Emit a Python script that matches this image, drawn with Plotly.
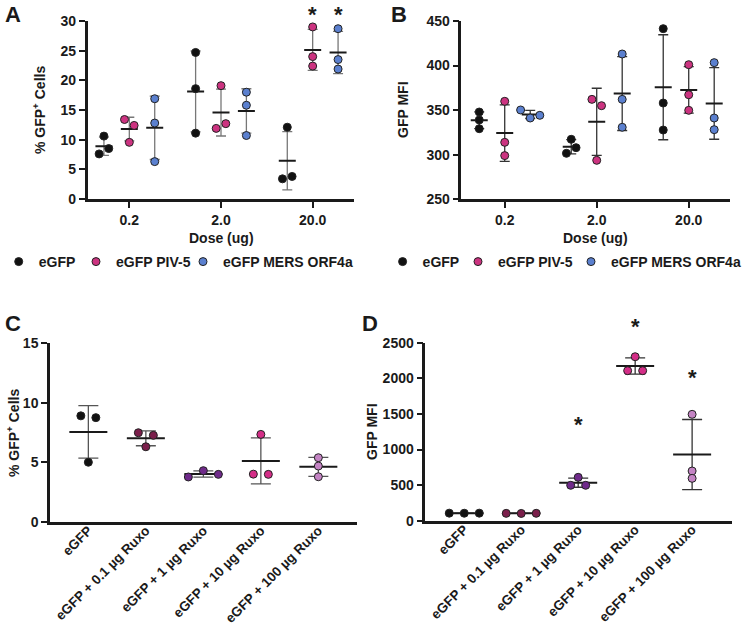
import numpy as np
import plotly.graph_objects as go

# ---------------- data ----------------
DOSES = ["0.2", "2.0", "20.0"]
SERIES = ["eGFP", "eGFP PIV-5", "eGFP MERS ORF4a"]

# Panel A: % GFP+ cells, per dose, 3 replicates
A_EGFP = [[10.6, 7.6, 8.5], [24.7, 18.6, 11.1], [12.1, 3.4, 3.8]]
A_PIV5 = [[13.4, 12.4, 9.55], [19.1, 11.9, 12.7], [29.0, 24.0, 22.4]]
A_MERS = [[16.9, 12.8, 6.3], [18.0, 15.8, 10.7], [28.7, 23.5, 21.9]]

# Panel B: GFP MFI
B_EGFP = [[347.9, 339.0, 329.2], [317.3, 301.6, 307.9], [441.4, 358.0, 327.7]]
B_PIV5 = [[359.9, 313.9, 299.0], [362.1, 355.0, 293.7], [401.0, 367.3, 349.8]]
B_MERS = [[350.2, 341.2, 344.2], [413.0, 362.1, 330.8], [403.3, 341.2, 328.1]]

RUXO = ["eGFP", "eGFP + 0.1 µg Ruxo", "eGFP + 1 µg Ruxo",
        "eGFP + 10 µg Ruxo", "eGFP + 100 µg Ruxo"]
# Panel C: % GFP+ cells
C_VALUES = [[8.9, 8.75, 5.0], [7.48, 7.26, 6.3], [3.76, 4.29, 3.98],
            [7.34, 4.0, 3.98], [5.38, 4.68, 3.78]]
# Panel D: GFP MFI
D_VALUES = [[106, 105, 106], [103, 102, 104], [609, 497, 497],
            [2303, 2107, 2107], [1494, 698, 595]]

# significance markers and label heights
A_STARS = [(1, 2), (2, 2)]          # (series index, dose index)
A_STAR_Y = 32.0
D_STARS = [2, 3, 4]
D_STAR_Y = [1428, 2795, 2084]

# ---------------- style ----------------
W, H = 744, 630
FONT = "Liberation Sans, Arial, Helvetica, sans-serif"
INK = "#1a1a1a"
SERIES_COLORS = ["#111111", "#cc3380", "#5b80cf"]
RUXO_COLORS = ["#111111", "#7b1f4b", "#6f2a8a", "#d42d87", "#c484c4"]
SERIES_OFFSET = [-0.277, 0.0, 0.277]
TICK_FS = 14
TITLE_FS = 14
LEGEND_FS = 14
# legend entry symbol positions (px) under panels A and B
LEGEND_SYMBOL_X = {"A": [16.7, 94.0, 201.0], "B": [400.6, 476.0, 589.0]}
LEGEND_Y = 262
SYMBOL_PAD = 18  # distance from legend box left edge to its symbol

# panel geometry in pixels: x (left, right), y (bottom, top)
PANELS = {
    "A": dict(xd=(87.7, 354.3), yd=(199.0, 21.0), xr=(-0.454, 2.454), yr=(0, 30), dt=5),
    "B": dict(xd=(461.3, 730.3), yd=(199.3, 21.0), xr=(-0.472, 2.452), yr=(250, 450), dt=50),
    "C": dict(xd=(50.0, 356.7), yd=(521.7, 343.3), xr=(-0.667, 4.667), yr=(0, 15), dt=5),
    "D": dict(xd=(425.3, 732.0), yd=(520.7, 342.7), xr=(-0.684, 4.70), yr=(0, 2500), dt=500),
}
AX = {"A": ("x", "y"), "B": ("x2", "y2"), "C": ("x3", "y3"), "D": ("x4", "y4")}


def scales(p):
    g = PANELS[p]
    ppc = (g["xd"][1] - g["xd"][0]) / (g["xr"][1] - g["xr"][0])
    ppu = (g["yd"][0] - g["yd"][1]) / (g["yr"][1] - g["yr"][0])
    return ppc, ppu


def swarm(values, ppu, ppc, thresh=7.0, step=9.6):
    """Spread points horizontally when they would overlap vertically."""
    vals = np.asarray(values, float)
    order = np.argsort(vals, kind="stable")
    clusters, cur = [], [order[0]]
    for a, b in zip(order[:-1], order[1:]):
        if (vals[b] - vals[a]) * ppu < thresh:
            cur.append(b)
        else:
            clusters.append(cur)
            cur = [b]
    clusters.append(cur)
    off = np.zeros(len(vals))
    for c in clusters:
        c = sorted(c)
        n = len(c)
        for i, k in enumerate(c):
            off[k] = (i - (n - 1) / 2) * step / ppc
    return off


fig = go.Figure()
legend_names = {}


def add_group_panel(p, data):
    xa, ya = AX[p]
    ppc, ppu = scales(p)
    errc = "#777777" if p == "A" else "#333333"
    for s, groups in enumerate(data):
        xm = [d + SERIES_OFFSET[s] for d in range(len(groups))]
        means = [float(np.mean(g)) for g in groups]
        sds = [float(np.std(g, ddof=1)) for g in groups]
        fig.add_trace(go.Scatter(
            x=xm, y=means, mode="markers", xaxis=xa, yaxis=ya,
            marker=dict(size=2, opacity=0), showlegend=False, hoverinfo="skip",
            error_y=dict(type="data", array=sds, visible=True, color=errc,
                         thickness=1.3, width=5),
            error_x=dict(type="constant", value=8.5 / ppc, visible=True,
                         color=INK, thickness=2, width=0),
            cliponaxis=False))
    for s, groups in enumerate(data):
        xs, ys = [], []
        for d, g in enumerate(groups):
            off = swarm(g, ppu, ppc, thresh=7.0, step=9.6)
            xs += list(d + SERIES_OFFSET[s] + off)
            ys += list(g)
        k = len(legend_names) + 1
        lname = "legend" if k == 1 else f"legend{k}"
        legend_names[lname] = LEGEND_SYMBOL_X[p][s]
        fig.add_trace(go.Scatter(
            x=xs, y=ys, mode="markers", xaxis=xa, yaxis=ya, name=SERIES[s],
            legend=lname, showlegend=True,
            marker=dict(size=8, color=SERIES_COLORS[s],
                        line=dict(width=1, color="#222222")),
            cliponaxis=False))


def add_cat_panel(p, data, errc):
    xa, ya = AX[p]
    ppc, ppu = scales(p)
    means = [float(np.mean(g)) for g in data]
    sds = [float(np.std(g, ddof=1)) for g in data]
    fig.add_trace(go.Scatter(
        x=list(range(len(data))), y=means, mode="markers", xaxis=xa, yaxis=ya,
        marker=dict(size=2, opacity=0), showlegend=False, hoverinfo="skip",
        error_y=dict(type="data", array=sds, visible=True, color=errc,
                     thickness=1.3, width=10),
        error_x=dict(type="constant", value=19 / ppc, visible=True,
                     color=INK, thickness=2, width=0),
        cliponaxis=False))
    for i, g in enumerate(data):
        off = swarm(g, ppu, ppc, thresh=7.0, step=15.0)
        fig.add_trace(go.Scatter(
            x=list(i + off), y=list(g), mode="markers", xaxis=xa, yaxis=ya,
            name=RUXO[i], showlegend=False,
            marker=dict(size=8, color=RUXO_COLORS[i],
                        line=dict(width=1, color="#222222")),
            cliponaxis=False))


add_group_panel("A", [A_EGFP, A_PIV5, A_MERS])
add_group_panel("B", [B_EGFP, B_PIV5, B_MERS])
add_cat_panel("C", C_VALUES, "#555555")
add_cat_panel("D", D_VALUES, "#333333")

# ---------------- axes ----------------
layout = dict(
    width=W, height=H, margin=dict(l=0, r=0, t=0, b=0, autoexpand=False),
    paper_bgcolor="white", plot_bgcolor="white",
    font=dict(family=FONT, size=14, color=INK, weight="bold"),
)
names = {"A": ("xaxis", "yaxis"), "B": ("xaxis2", "yaxis2"),
         "C": ("xaxis3", "yaxis3"), "D": ("xaxis4", "yaxis4")}
for p, g in PANELS.items():
    xn, yn = names[p]
    xa, ya = AX[p]
    common = dict(showline=True, linewidth=2.5, linecolor=INK, showgrid=False,
                  zeroline=False, ticks="outside", ticklen=6, tickwidth=2,
                  tickcolor=INK, fixedrange=True, automargin=False)
    if p in ("A", "B"):
        xt = dict(tickvals=list(range(len(DOSES))), ticktext=DOSES,
                  tickfont=dict(size=TICK_FS, weight="bold"))
    else:
        xt = dict(tickvals=list(range(len(RUXO))), ticktext=RUXO, tickangle=-45,
                  ticks="", ticklabelstandoff=-7,
                  tickfont=dict(size=13.5, weight="bold"))
    xcfg = dict(common)
    xcfg.update(xt)
    xcfg.update(domain=[g["xd"][0] / W, g["xd"][1] / W], range=list(g["xr"]),
                anchor=ya)
    ycfg = dict(common)
    ycfg.update(domain=[1 - g["yd"][0] / H, 1 - g["yd"][1] / H], range=list(g["yr"]),
                dtick=g["dt"], tick0=g["yr"][0], anchor=xa,
                tickfont=dict(size=TICK_FS, weight="bold"))
    layout[xn] = xcfg
    layout[yn] = ycfg

for lname, sx in legend_names.items():
    layout[lname] = dict(orientation="h", yanchor="middle", xanchor="left",
                         x=(sx - SYMBOL_PAD) / W, y=1 - LEGEND_Y / H,
                         font=dict(size=LEGEND_FS, weight="bold", color=INK),
                         bgcolor="rgba(0,0,0,0)", itemclick=False,
                         itemdoubleclick=False)
fig.update_layout(**layout)

# ---------------- text ----------------
def ann(text, x, y, size=TITLE_FS, angle=0, **kw):
    fig.add_annotation(text=text, x=x / W, y=1 - y / H, xref="paper", yref="paper",
                       showarrow=False, textangle=angle,
                       font=dict(size=size, color=INK, weight="bold", family=FONT),
                       xanchor="center", yanchor="middle", **kw)

for letter, (lx, ly) in {"A": (13, 14), "B": (399, 14), "C": (13, 324), "D": (370, 324)}.items():
    ann(letter, lx, ly, size=22)

ann("% GFP<sup>+</sup> Cells", 39, 110, angle=-90)
ann("GFP MFI", 403, 110, angle=-90)
ann("% GFP<sup>+</sup> Cells", 13, 433, angle=-90)
ann("GFP MFI", 372, 432, angle=-90)
ann("Dose (ug)", 221, 238)
ann("Dose (ug)", 595, 238)

star_font = dict(size=22, color=INK, weight="bold", family=FONT)
ya0, ya1 = PANELS["A"]["yr"]
for s, d in A_STARS:
    fig.add_annotation(text="*", x=d + SERIES_OFFSET[s], y=(A_STAR_Y - ya0) / (ya1 - ya0),
                       xref="x", yref="y domain", showarrow=False, yshift=-5,
                       xanchor="center", yanchor="middle", font=star_font)
yd0, yd1 = PANELS["D"]["yr"]
for i, yv in zip(D_STARS, D_STAR_Y):
    fig.add_annotation(text="*", x=i, y=(yv - yd0) / (yd1 - yd0),
                       xref="x4", yref="y4 domain", showarrow=False, yshift=-5,
                       xanchor="center", yanchor="middle", font=star_font)

fig.write_html("out.html", config={"displayModeBar": False},
               post_script="document.body.style.margin='0px';")
